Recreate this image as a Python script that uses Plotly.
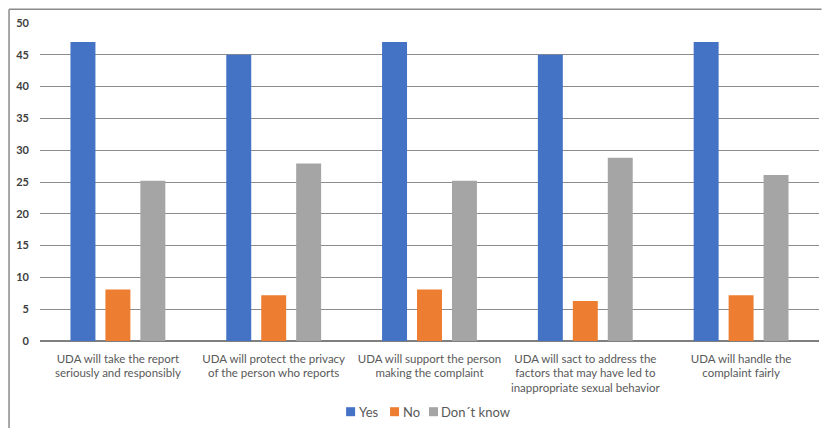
import plotly.graph_objects as go

categories = [
    "UDA will take the report<br>seriously and responsibly",
    "UDA will protect the privacy<br>of the person who reports",
    "UDA will support the person<br>making the complaint",
    "UDA will sact to address the<br>factors that may have led to<br>inappropriate sexual behavior",
    "UDA will handle the<br>complaint fairly",
]
yes_vals = [47, 45, 47, 45, 47]
no_vals = [8.1, 7.2, 8.1, 6.3, 7.2]
dk_vals = [25.2, 27.9, 25.2, 28.8, 26.1]
series_names = ["Yes", "No", "Don´t know"]
colors = ["#4472C4", "#ED7D31", "#A5A5A5"]
y_ticks = [0, 5, 10, 15, 20, 25, 30, 35, 40, 45, 50]

FONT = "Lato"

fig = go.Figure()
for name, vals, col in zip(series_names, [yes_vals, no_vals, dk_vals], colors):
    fig.add_trace(go.Bar(x=list(range(len(categories))), y=vals, name=name,
                         marker=dict(color=col, line=dict(width=0))))

W, H = 822, 428
ml, mr, mt, mb = 39.5, 2.5, 23.3, 86.7
fig.update_layout(
    width=W, height=H,
    margin=dict(l=ml, r=mr, t=mt, b=mb, pad=0),
    paper_bgcolor="white", plot_bgcolor="white",
    barmode="group", bargap=0.327, bargroupgap=0.286,
    font=dict(family=FONT, color="#595959", size=12),
    xaxis=dict(tickmode="array", tickvals=list(range(len(categories))), ticktext=categories,
               range=[-0.5, 4.5], showgrid=False, zeroline=False, showline=False,
               ticks="", tickfont=dict(size=11.5, color="#595959", family=FONT), ticklabelstandoff=9),
    yaxis=dict(range=[0, 50], tickmode="array", tickvals=y_ticks,
               showgrid=True, gridcolor="#8c8c8c", gridwidth=1,
               zeroline=True, zerolinecolor="#7f7f7f", zerolinewidth=1.5,
               showline=False, ticks="", ticklabelstandoff=10,
               tickfont=dict(size=11, color="#404040", family=FONT, weight="bold")),
    showlegend=False,
)

pw = W - ml - mr
ph = H - mt - mb
def px_x(px):
    return (px - ml) / pw
def px_y(py):
    return (H - mb - py) / ph

# outer frame (top and left edges visible)
fig.add_shape(type="line", xref="paper", yref="paper",
              x0=px_x(8.5), x1=px_x(822), y0=px_y(9.5), y1=px_y(9.5),
              line=dict(color="#8a8a8a", width=1.5))
fig.add_shape(type="line", xref="paper", yref="paper",
              x0=px_x(8.5), x1=px_x(8.5), y0=px_y(9.5), y1=px_y(430),
              line=dict(color="#8a8a8a", width=1.5))

# legend drawn manually (square swatch right next to text)
legend_x = [346, 390, 429]
for name, col, lx in zip(series_names, colors, legend_x):
    fig.add_shape(type="rect", xref="paper", yref="paper",
                  x0=px_x(lx), x1=px_x(lx + 9), y0=px_y(416.5), y1=px_y(407.5),
                  fillcolor=col, line=dict(width=0))
    fig.add_annotation(xref="paper", yref="paper", x=px_x(lx + 10.5), y=px_y(412),
                       text=name, showarrow=False, xanchor="left", yanchor="middle",
                       font=dict(family=FONT, size=13, color="#595959"))

fig.write_html("out.html")
